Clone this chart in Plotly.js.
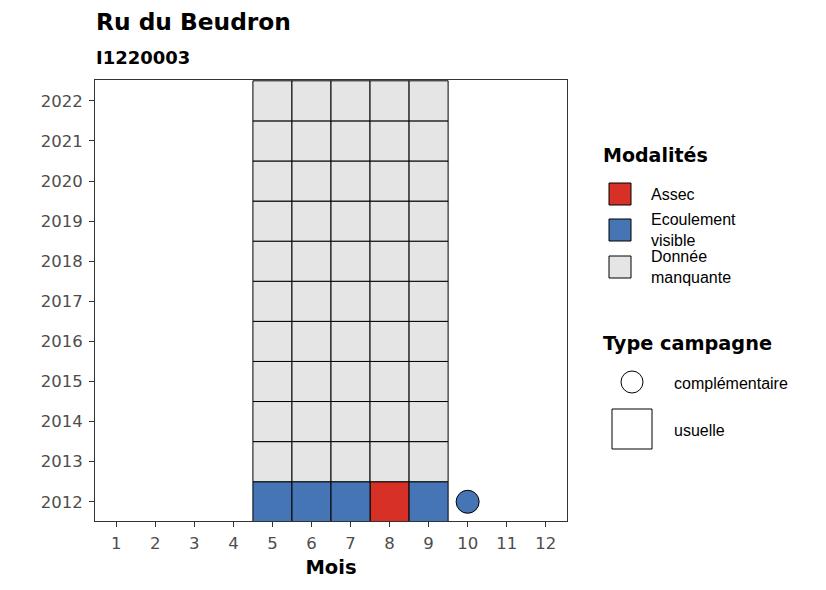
<!DOCTYPE html>
<html>
<head>
<meta charset="utf-8">
<script src="https://cdn.plot.ly/plotly-3.0.1.min.js"></script>
<style>html,body{margin:0;padding:0;background:#fff;}#chart{width:826px;height:590px;}</style>
</head>
<body>
<div id="chart"></div>
<script>
// ---- data ----
const months = [5, 6, 7, 8, 9,
  5,6,7,8,9, 5,6,7,8,9, 5,6,7,8,9, 5,6,7,8,9, 5,6,7,8,9,
  5,6,7,8,9, 5,6,7,8,9, 5,6,7,8,9, 5,6,7,8,9, 5,6,7,8,9];
const years = [2012,2012,2012,2012,2012,
  2013,2013,2013,2013,2013, 2014,2014,2014,2014,2014, 2015,2015,2015,2015,2015,
  2016,2016,2016,2016,2016, 2017,2017,2017,2017,2017, 2018,2018,2018,2018,2018,
  2019,2019,2019,2019,2019, 2020,2020,2020,2020,2020, 2021,2021,2021,2021,2021,
  2022,2022,2022,2022,2022];
const modalites = ["Ecoulement visible","Ecoulement visible","Ecoulement visible","Assec","Ecoulement visible"]
  .concat(Array(50).fill("Donnée manquante"));
// complementary campaigns
const compMonths = [10];
const compYears = [2012];
const compModalites = ["Ecoulement visible"];

const categories = ["Assec", "Ecoulement visible", "Donnée manquante"];
const colors = {"Assec": "#D73027", "Ecoulement visible": "#4575B4", "Donnée manquante": "#E5E5E5"};
const monthTicks = [1,2,3,4,5,6,7,8,9,10,11,12];
const yearTicks = [2012,2013,2014,2015,2016,2017,2018,2019,2020,2021,2022];

// ---- traces ----
const traces = [];
categories.forEach(cat => {
  const xs = [], bs = [];
  months.forEach((m, i) => { if (modalites[i] === cat) { xs.push(m); bs.push(years[i] - 0.5); } });
  if (xs.length) traces.push({
    type: 'bar', x: xs, y: xs.map(() => 1), base: bs, width: 1,
    marker: {color: colors[cat], line: {color: '#000', width: 1}},
    showlegend: false, hoverinfo: 'skip'
  });
});
traces.push({
  type: 'scatter', mode: 'markers', x: compMonths, y: compYears,
  marker: {symbol: 'circle', size: 23, color: compModalites.map(c => colors[c]), line: {color: '#000', width: 1}},
  showlegend: false, hoverinfo: 'skip'
});

// ---- pixel helpers for legend ----
const L = 95, R = 567, T = 80, B = 521;
const px = x => (x - L) / (R - L);
const py = y => (B - y) / (B - T);

const shapes = [];
const annotations = [];
const boldFont = "DejaVu Sans, sans-serif";
const textFont = "Liberation Sans, Arial, sans-serif";

function ann(text, x, y, size, bold, family) {
  annotations.push({text: bold ? '<b>' + text + '</b>' : text, xref: 'paper', yref: 'paper',
    x: px(x), y: py(y), xanchor: 'left', yanchor: 'middle', showarrow: false,
    font: {family: family || (bold ? boldFont : textFont), size: size, color: '#000'}, align: 'left'});
}

// titles
ann('Ru du Beudron', 94, 22, 23.3, true);
ann('I1220003', 94, 57, 18, true);

// Modalités legend
ann('Modalités', 601, 155, 19, true);
const keyY = [[183, 205], [219, 241], [256, 278]];
categories.forEach((cat, i) => {
  shapes.push({type: 'rect', xref: 'paper', yref: 'paper', x0: px(609), x1: px(631), y0: py(keyY[i][0]), y1: py(keyY[i][1]),
    fillcolor: colors[cat], line: {color: '#000', width: 1}});
});
ann('Assec', 649, 194, 16);
ann('Ecoulement<br>visible', 649, 230, 16);
ann('Donnée<br>manquante', 649, 267, 16);

// Type campagne legend
ann('Type campagne', 601, 343, 19.3, true);
shapes.push({type: 'circle', xref: 'paper', yref: 'paper', x0: px(621), x1: px(643), y0: py(371), y1: py(393),
  fillcolor: '#fff', line: {color: '#000', width: 1}});
shapes.push({type: 'rect', xref: 'paper', yref: 'paper', x0: px(612), x1: px(652), y0: py(409), y1: py(449),
  fillcolor: '#fff', line: {color: '#000', width: 1}});
ann('complémentaire', 672, 383, 16);
ann('usuelle', 672, 430, 16);

const tickFont = {family: "DejaVu Sans, sans-serif", size: 16.5, color: '#4D4D4D'};

const layout = {
  width: 826, height: 590,
  margin: {l: L, r: 826 - R, t: T, b: 590 - B, pad: 0},
  paper_bgcolor: '#fff', plot_bgcolor: '#fff',
  font: {family: textFont},
  showlegend: false,
  barmode: 'overlay',
  xaxis: {
    range: [0.455, 12.545], tickvals: monthTicks, ticktext: monthTicks.map(String),
    showgrid: false, zeroline: false, showline: true, mirror: true, linecolor: '#333333', linewidth: 1,
    ticks: 'outside', ticklen: 5, tickcolor: '#333333', tickwidth: 1,
    tickfont: tickFont, ticklabelstandoff: 2,
    title: {text: '<b>Mois</b>', font: {family: boldFont, size: 19.5, color: '#000'}, standoff: 8},
    fixedrange: true
  },
  yaxis: {
    range: [2011.52, 2022.52], tickvals: yearTicks, ticktext: yearTicks.map(String),
    showgrid: false, zeroline: false, showline: true, mirror: true, linecolor: '#333333', linewidth: 1,
    ticks: 'outside', ticklen: 5, tickcolor: '#333333', tickwidth: 1,
    tickfont: tickFont, ticklabelstandoff: 3,
    fixedrange: true
  },
  shapes: shapes,
  annotations: annotations
};

Plotly.newPlot('chart', traces, layout, {staticPlot: true, displayModeBar: false});
</script>
</body>
</html>
